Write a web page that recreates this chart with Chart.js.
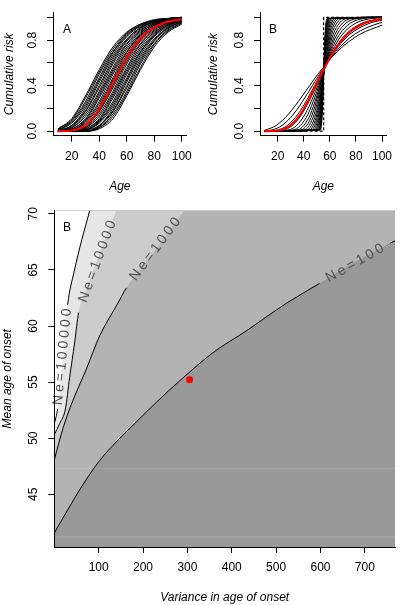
<!DOCTYPE html>
<html><head><meta charset="utf-8">
<script src="https://cdn.jsdelivr.net/npm/chart.js@4.4.1/dist/chart.umd.min.js"></script>
<style>
html,body{margin:0;padding:0;background:#fff;width:400px;height:605px;overflow:hidden;}
canvas{position:absolute;}
#cA{left:0;top:0;width:200px;height:200px;}
#cB{left:200px;top:0;width:200px;height:200px;}
#cC{left:0;top:195px;width:400px;height:410px;}
</style></head><body>
<canvas id="cC" width="400" height="410"></canvas>
<canvas id="cA" width="200" height="200"></canvas>
<canvas id="cB" width="200" height="200"></canvas>
<script>
// ---------- data: top panels ----------
const ageTicks = [20, 40, 60, 80, 100];
const riskTicks = [0, 0.2, 0.4, 0.6, 0.8, 1.0];
const riskTickLabels = [0, 0.4, 0.8];
const agesA = [10, 20, 30, 40, 50, 60, 70, 80, 90, 100];
// panel A: one row per mean age of onset (40 ... 70), variance fixed
const riskA = [
  [0.02,0.11,0.31,0.54,0.74,0.87,0.94,0.98,0.99,1.00],
  [0.02,0.10,0.29,0.52,0.72,0.86,0.94,0.97,0.99,1.00],
  [0.01,0.09,0.26,0.50,0.70,0.85,0.93,0.97,0.99,1.00],
  [0.01,0.08,0.24,0.47,0.69,0.84,0.93,0.97,0.99,1.00],
  [0.01,0.07,0.22,0.45,0.67,0.83,0.92,0.97,0.99,0.99],
  [0.01,0.05,0.20,0.43,0.65,0.81,0.91,0.96,0.99,0.99],
  [0.00,0.05,0.18,0.40,0.63,0.80,0.91,0.96,0.98,0.99],
  [0.00,0.04,0.17,0.38,0.61,0.79,0.90,0.96,0.98,0.99],
  [0.00,0.03,0.15,0.35,0.59,0.77,0.89,0.95,0.98,0.99],
  [0.00,0.03,0.13,0.33,0.56,0.76,0.88,0.95,0.98,0.99],
  [0.00,0.02,0.11,0.31,0.54,0.74,0.87,0.94,0.98,0.99],
  [0.00,0.02,0.10,0.29,0.52,0.72,0.86,0.94,0.97,0.99],
  [0.00,0.01,0.09,0.26,0.50,0.70,0.85,0.93,0.97,0.99],
  [0.00,0.01,0.08,0.24,0.47,0.69,0.84,0.93,0.97,0.99],
  [0.00,0.01,0.07,0.22,0.45,0.67,0.83,0.92,0.97,0.99],
  [0.00,0.01,0.05,0.20,0.43,0.65,0.81,0.91,0.96,0.98],
  [0.00,0.00,0.05,0.18,0.40,0.63,0.80,0.91,0.96,0.98],
  [0.00,0.00,0.04,0.17,0.38,0.61,0.79,0.90,0.96,0.98],
  [0.00,0.00,0.03,0.15,0.35,0.59,0.77,0.89,0.95,0.98],
  [0.00,0.00,0.03,0.13,0.33,0.56,0.76,0.88,0.95,0.98],
  [0.00,0.00,0.02,0.11,0.31,0.54,0.74,0.87,0.94,0.98],
  [0.00,0.00,0.02,0.10,0.29,0.52,0.72,0.86,0.94,0.97],
  [0.00,0.00,0.01,0.09,0.26,0.50,0.70,0.85,0.93,0.97],
  [0.00,0.00,0.01,0.08,0.24,0.47,0.69,0.84,0.93,0.97],
  [0.00,0.00,0.01,0.07,0.22,0.45,0.67,0.83,0.92,0.97],
  [0.00,0.00,0.01,0.05,0.20,0.43,0.65,0.81,0.91,0.96],
  [0.00,0.00,0.00,0.05,0.18,0.40,0.63,0.80,0.91,0.96],
  [0.00,0.00,0.00,0.04,0.17,0.38,0.61,0.79,0.90,0.96],
  [0.00,0.00,0.00,0.03,0.15,0.35,0.59,0.77,0.89,0.95],
  [0.00,0.00,0.00,0.03,0.13,0.33,0.56,0.76,0.88,0.95],
  [0.00,0.00,0.00,0.02,0.11,0.31,0.54,0.74,0.87,0.94]
];
// observed disease (red curve), [age, cumulative risk]
const redCurve = [[10,0],[22.66,0.01],[29.90,0.05],[37.56,0.15],[44.94,0.30],[53.42,0.50],[62.91,0.70],[73.21,0.85],[86.85,0.95],[100,0.985]];
// panel B: one curve per variance (wide -> narrow), [age, cumulative risk]
const curvesB = [
  [[10,0.007],[18.85,0.05],[28.29,0.15],[38.32,0.30],[50.79,0.50],[65.71,0.70],[82.86,0.85],[100,0.931]],
  [[10,0.002],[15.47,0.01],[23.28,0.05],[32.18,0.15],[41.21,0.30],[52.06,0.50],[64.66,0.70],[78.79,0.85],[98.11,0.95],[100,0.955]],
  [[10,0],[19.86,0.01],[27.40,0.05],[35.58,0.15],[43.60,0.30],[52.96,0.50],[63.59,0.70],[75.26,0.85],[90.89,0.95],[100,0.975]],
  [[10,0],[24.08,0.01],[31.15,0.05],[38.53,0.15],[45.57,0.30],[53.62,0.50],[62.56,0.70],[72.21,0.85],[84.91,0.95],[100,0.989]],
  [[10,0],[28.02,0.01],[34.50,0.05],[41.07,0.15],[47.21,0.30],[54.09,0.50],[61.61,0.70],[69.60,0.85],[79.97,0.95],[92.73,0.99],[100,0.996]],
  [[10,0],[31.60,0.01],[37.44,0.05],[43.24,0.15],[48.55,0.30],[54.42,0.50],[60.75,0.70],[67.38,0.85],[75.88,0.95],[86.21,0.99],[100,1]],
  [[10,0],[34.84,0.01],[40.03,0.05],[45.10,0.15],[49.67,0.30],[54.66,0.50],[59.97,0.70],[65.49,0.85],[72.48,0.95],[80.86,0.99],[100,1]],
  [[10,0],[37.64,0.01],[42.20,0.05],[46.61,0.15],[50.55,0.30],[54.83,0.50],[59.33,0.70],[63.95,0.85],[69.74,0.95],[76.58,0.99],[100,1]],
  [[10,0],[40.13,0.01],[44.13,0.05],[47.95,0.15],[51.33,0.30],[54.95,0.50],[58.73,0.70],[62.59,0.85],[67.39,0.95],[73.03,0.99],[100,1]],
  [[10,0],[42.41,0.01],[45.87,0.05],[49.14,0.15],[52.00,0.30],[55.04,0.50],[58.20,0.70],[61.40,0.85],[65.35,0.95],[69.95,0.99],[100,1]],
  [[10,0],[44.29,0.01],[47.28,0.05],[50.08,0.15],[52.52,0.30],[55.10,0.50],[57.76,0.70],[60.44,0.85],[63.74,0.95],[67.55,0.99],[100,1]],
  [[10,0],[45.86,0.01],[48.46,0.05],[50.85,0.15],[52.95,0.30],[55.14,0.50],[57.39,0.70],[59.65,0.85],[62.42,0.95],[65.60,0.99],[100,1]],
  [[10,0],[47.30,0.01],[49.52,0.05],[51.56,0.15],[53.32,0.30],[55.17,0.50],[57.06,0.70],[58.94,0.85],[61.24,0.95],[63.88,0.99],[100,1]],
  [[10,0],[48.51,0.01],[50.40,0.05],[52.14,0.15],[53.64,0.30],[55.20,0.50],[56.78,0.70],[58.36,0.85],[60.28,0.95],[62.47,0.99],[100,1]],
  [[10,0],[49.54,0.01],[51.16,0.05],[52.63,0.15],[53.90,0.30],[55.21,0.50],[56.55,0.70],[57.87,0.85],[59.48,0.95],[61.30,0.99],[100,1]],
  [[10,0],[50.44,0.01],[51.81,0.05],[53.05,0.15],[54.12,0.30],[55.22,0.50],[56.34,0.70],[57.45,0.85],[58.79,0.95],[60.30,0.99],[100,1]],
  [[10,0],[51.18,0.01],[52.35,0.05],[53.40,0.15],[54.30,0.30],[55.23,0.50],[56.17,0.70],[57.10,0.85],[58.23,0.95],[59.50,0.99],[100,1]],
  [[10,0],[51.77,0.01],[52.75,0.05],[53.68,0.15],[54.45,0.30],[55.24,0.50],[56.04,0.70],[56.82,0.85],[57.77,0.95],[58.84,0.99],[100,1]],
  [[10,0],[52.37,0.01],[53.18,0.05],[53.94,0.15],[54.59,0.30],[55.24,0.50],[55.90,0.70],[56.56,0.85],[57.34,0.95],[58.22,0.99],[100,1]],
  [[10,0],[52.77,0.01],[53.49,0.05],[54.14,0.15],[54.69,0.30],[55.24,0.50],[55.80,0.70],[56.36,0.85],[57.03,0.95],[57.74,0.99],[100,1]]
];
const stepB = [[10,0],[55.25,0],[55.25,1],[100,1]];

// ---------- data: bottom contour panel ----------
const varianceTicks = [100, 200, 300, 400, 500, 600, 700];
const meanTicks = [45, 50, 55, 60, 65, 70];
const contourLevels = ['Ne=100', 'Ne=1000', 'Ne=10000', 'Ne=100000'];
// [variance, mean age of onset] along each Ne contour
const ne100 = [[0,41.55],[30,43.6],[64.5,45.86],[102,48.0],[140,49.68],[185,51.45],[230,53.2],[283,55.13],[357,57.6],[434,59.6],[524,62.05],[598,63.8],[677,65.7],[757,67.38],[768,67.6]];
const ne1000 = [[0,48.07],[19.4,50.86],[38.3,53.0],[72.2,56.16],[102.2,59.11],[143.5,62.05],[162.4,63.4],[226,66.7],[293,70.3]];
const ne10000 = [[0,50.3],[12,51.3],[25,52.6],[34.5,55.4],[45.8,58.5],[54.8,61.2],[75,63.5],[96.5,65.85],[120,68.3],[140,70.3]];
const ne100000 = [[0,51.3],[4,51.9],[7.4,52.6],[18.7,57.0],[30,61.9],[45,64.9],[62,67.7],[80,70.3]];
const labelGaps = [[598,757],[162.4,293],[54.8,140],[7.4,30]];
const redPoint = [305, 55.22];
const seamMeans = [47.3, 41.2];

// ---------- styling ----------
const FONT = "'Liberation Sans', Arial, Helvetica, sans-serif";
const fillGreys = ['#b3b3b3', '#cccccc', '#e6e6e6', '#ffffff'];
const toXY = arr => arr.map(p => ({x: p[0], y: p[1]}));

const areaBg = {
  id: 'areaBg',
  beforeDatasetsDraw(chart, args, opts) {
    if (!opts || !opts.color) return;
    const {ctx, chartArea: a} = chart;
    ctx.save(); ctx.fillStyle = opts.color;
    ctx.fillRect(a.left, a.top, a.right - a.left, a.bottom - a.top);
    ctx.restore();
  }
};
const letterPlugin = {
  id: 'panelLetter',
  afterDraw(chart, args, opts) {
    if (!opts || !opts.text) return;
    const {ctx, chartArea: a} = chart;
    ctx.save();
    ctx.font = `12px ${FONT}`; ctx.fillStyle = '#000';
    ctx.textAlign = 'center'; ctx.textBaseline = 'middle';
    ctx.fillText(opts.text, a.left + opts.dx, a.top + opts.dy);
    ctx.restore();
  }
};
const contourLabelPlugin = {
  id: 'contourLabels',
  afterDatasetsDraw(chart) {
    const {ctx, scales: {x, y}} = chart;
    const lines = [ne100, ne1000, ne10000, ne100000];
    contourLevels.forEach((txt, i) => {
      const [g0, g1] = labelGaps[i];
      const pa = lines[i].find(p => p[0] === g0);
      const pb = lines[i].find(p => p[0] === g1);
      const x0 = x.getPixelForValue(pa[0]), y0 = y.getPixelForValue(pa[1]);
      const x1 = x.getPixelForValue(pb[0]), y1 = y.getPixelForValue(pb[1]);
      const cx = (x0 + x1) / 2, cy = (y0 + y1) / 2;
      const ang = Math.atan2(y1 - y0, x1 - x0);
      ctx.save();
      ctx.font = `14px ${FONT}`; ctx.fillStyle = '#505050';
      ctx.textBaseline = 'middle'; ctx.textAlign = 'left';
      const sp = 3;
      const chars = [...txt];
      const w = chars.map(c => ctx.measureText(c).width);
      const total = w.reduce((s, v) => s + v, 0) + sp * (chars.length - 1);
      ctx.translate(cx, cy); ctx.rotate(ang);
      let px = -total / 2;
      chars.forEach((c, k) => { ctx.fillText(c, px, 0); px += w[k] + sp; });
      ctx.restore();
    });
  }
};

function axisCommon() {
  return {
    grid: {drawOnChartArea: false, drawTicks: true, tickLength: 6, color: '#000', lineWidth: 1},
    border: {display: true, color: '#000', width: 1, z: 1}
  };
}
function topOptions(yWidth, padRight, yTitlePad, letter, letterDx) {
  return {
    responsive: false, animation: false, devicePixelRatio: 1,
    layout: {padding: {left: 0, top: 1.2, right: padRight, bottom: 0}},
    plugins: {legend: {display: false}, tooltip: {enabled: false},
      panelLetter: {text: letter, dx: letterDx, dy: 17}},
    elements: {point: {radius: 0}},
    scales: {
      x: Object.assign(axisCommon(), {
        type: 'linear', min: 6.4, max: 103.6,
        afterBuildTicks: s => { s.ticks = ageTicks.map(v => ({value: v})); },
        afterFit: s => { s.height = 64.3; },
        ticks: {color: '#000', font: {family: FONT, size: 12}, padding: 7.8, maxRotation: 0, minRotation: 0, autoSkip: false},
        title: {display: true, text: 'Age', color: '#000', font: {family: FONT, size: 12, style: 'italic'}, padding: {top: 0, bottom: 5.8}}
      }),
      y: Object.assign(axisCommon(), {
        type: 'linear', min: -0.04, max: 1.04,
        afterBuildTicks: s => { s.ticks = riskTicks.map(v => ({value: v})); },
        afterFit: s => { s.width = yWidth; },
        ticks: {color: '#000', font: {family: FONT, size: 12}, padding: 5.6, minRotation: 90, maxRotation: 90,
          crossAlign: 'center', autoSkip: false,
          callback: v => riskTickLabels.some(t => Math.abs(t - v) < 1e-9) ? Number(v).toFixed(1) : ''},
        title: {display: true, text: 'Cumulative risk', color: '#000', font: {family: FONT, size: 12, style: 'italic'}, padding: {top: yTitlePad, bottom: 0}}
      })
    }
  };
}

// ---------- panel A ----------
const dsA = riskA.map(row => ({
  data: agesA.map((a, k) => ({x: a, y: row[k]})),
  borderColor: '#000', borderWidth: 1, pointRadius: 0, fill: false,
  cubicInterpolationMode: 'monotone', order: 2
}));
dsA.push({data: toXY(redCurve), borderColor: '#ff0000', borderWidth: 2.2, pointRadius: 0, fill: false,
  cubicInterpolationMode: 'monotone', order: 0});
new Chart(document.getElementById('cA'), {
  type: 'line', data: {datasets: dsA},
  options: topOptions(53, 12, 2.8, 'A', 14),
  plugins: [letterPlugin]
});

// ---------- panel B ----------
const dsB = curvesB.map(c => ({
  data: toXY(c), borderColor: '#000', borderWidth: 1, pointRadius: 0, fill: false,
  cubicInterpolationMode: 'monotone', order: 2
}));
dsB.push({data: toXY(stepB), borderColor: '#000', borderWidth: 1.2, borderDash: [3, 2], pointRadius: 0,
  fill: false, tension: 0, order: 1});
dsB.push({data: toXY(redCurve), borderColor: '#ff0000', borderWidth: 2.2, pointRadius: 0, fill: false,
  cubicInterpolationMode: 'monotone', order: 0});
new Chart(document.getElementById('cB'), {
  type: 'line', data: {datasets: dsB},
  options: topOptions(60, 5, 6.8, 'B', 13),
  plugins: [letterPlugin]
});

// ---------- bottom contour panel ----------
const contourLines = [ne100, ne1000, ne10000, ne100000];
// filled bands (no outline), stacked from Ne=100 upwards
const dsC = contourLines.map((pts, i) => ({
  data: toXY(pts), borderColor: 'rgba(0,0,0,0)', borderWidth: 0, pointRadius: 0,
  fill: 'end', backgroundColor: fillGreys[i],
  cubicInterpolationMode: 'monotone', order: 20 - i
}));
seamMeans.forEach(m => dsC.push({
  data: [{x: 0, y: m}, {x: 768, y: m}], borderColor: 'rgba(255,255,255,0.13)', borderWidth: 1,
  pointRadius: 0, fill: false, order: 12
}));
// black contour lines, broken where the labels sit
contourLines.forEach((pts, i) => dsC.push({
  data: toXY(pts), borderColor: '#000', borderWidth: 1, pointRadius: 0, fill: false,
  cubicInterpolationMode: 'monotone', order: 5,
  segment: {borderColor: c => (c.p0.parsed.x >= labelGaps[i][0] - 1e-9 && c.p1.parsed.x <= labelGaps[i][1] + 1e-9) ? 'rgba(0,0,0,0)' : '#000'}
}));
dsC.push({data: [{x: redPoint[0], y: redPoint[1]}], showLine: false, pointRadius: 3.5,
  pointBackgroundColor: '#ff0000', pointBorderColor: '#ff0000', pointBorderWidth: 0, order: 0});

new Chart(document.getElementById('cC'), {
  type: 'line', data: {datasets: dsC},
  options: {
    responsive: false, animation: false, devicePixelRatio: 1,
    layout: {padding: {left: 0, top: 12, right: 5, bottom: 0}},
    plugins: {legend: {display: false}, tooltip: {enabled: false},
      areaBg: {color: '#999999'}, panelLetter: {text: 'B', dx: 12.7, dy: 17}},
    scales: {
      x: Object.assign(axisCommon(), {
        type: 'linear', min: 0, max: 768,
        afterBuildTicks: s => { s.ticks = varianceTicks.map(v => ({value: v})); },
        afterFit: s => { s.height = 58; },
        ticks: {color: '#000', font: {family: FONT, size: 12}, padding: 7.8, maxRotation: 0, minRotation: 0, autoSkip: false},
        title: {display: true, text: 'Variance in age of onset', color: '#000', font: {family: FONT, size: 12, style: 'italic'}, padding: {top: 0, bottom: 0}}
      }),
      y: Object.assign(axisCommon(), {
        type: 'linear', min: 40.3, max: 70.3,
        afterBuildTicks: s => { s.ticks = meanTicks.map(v => ({value: v})); },
        afterFit: s => { s.width = 54.3; },
        ticks: {color: '#000', font: {family: FONT, size: 12}, padding: 8.3, minRotation: 90, maxRotation: 90,
          crossAlign: 'center', autoSkip: false, callback: v => String(v)},
        title: {display: true, text: 'Mean age of onset', color: '#000', font: {family: FONT, size: 12, style: 'italic'}, padding: {top: 0, bottom: 0}}
      })
    }
  },
  plugins: [areaBg, letterPlugin, contourLabelPlugin]
});
</script>
</body></html>
